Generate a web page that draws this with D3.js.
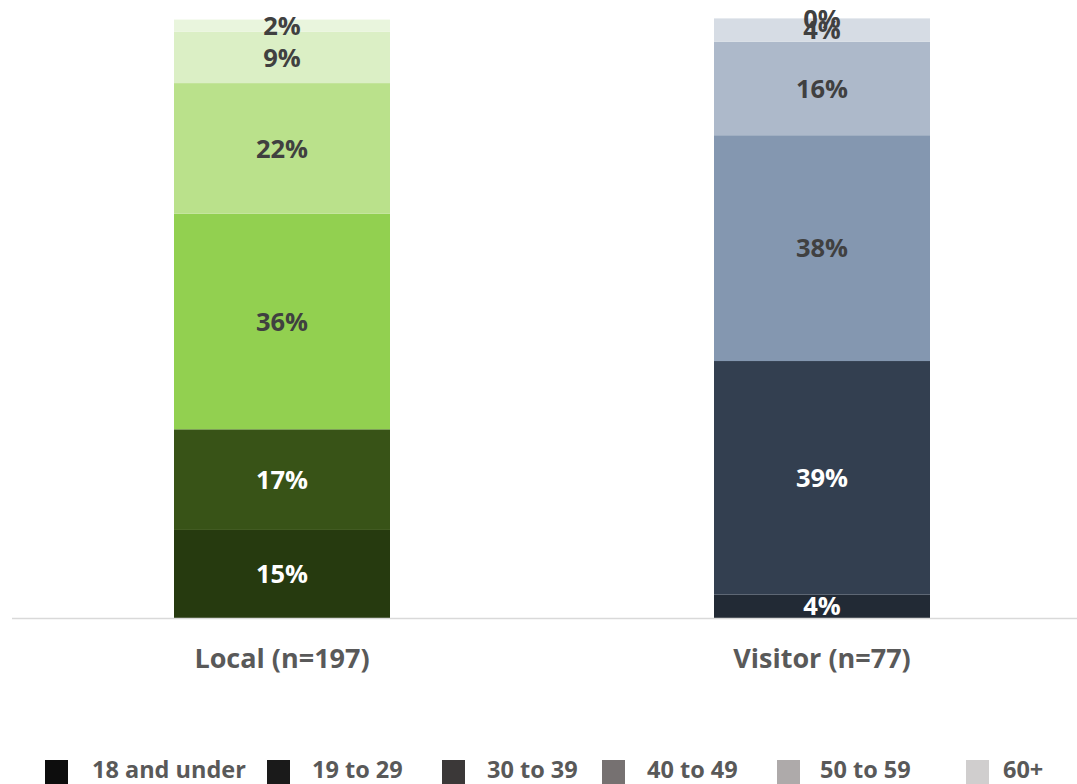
<!DOCTYPE html>
<html><head><meta charset="utf-8">
<script src="https://cdn.jsdelivr.net/npm/d3@7"></script>
<style>html,body{margin:0;padding:0;background:#fff;overflow:hidden}</style>
</head><body><svg id="c" width="1077" height="784"></svg>
<script>
const categories = ["Local (n=197)", "Visitor (n=77)"];
const ageGroups = ["18 and under", "19 to 29", "30 to 39", "40 to 49", "50 to 59", "60+"];
const localValues = [14.7, 16.8, 36.0, 21.8, 8.6, 2.0];
const visitorValues = [3.9, 39.0, 37.7, 15.6, 3.9, 0.0];
const localColors = ["#263a0f", "#385317", "#92d050", "#bae18b", "#dbefc5", "#e9f5dd"];
const visitorColors = ["#222a35", "#333f50", "#8497b0", "#adb9ca", "#d6dce4", "#eaeef3"];
const legendColors = ["#0d0d0d", "#1a1a1a", "#3b3838", "#767171", "#aeaaaa", "#d0cece"];
const labelColors = ["#ffffff", "#ffffff", "#404040", "#404040", "#404040", "#404040"];

const svg = d3.select("#c");
const font = "'Open Sans', sans-serif";
const x = d3.scaleBand().domain(categories).range([12, 1092]).paddingInner(0.6).paddingOuter(0.3);
const y = d3.scaleLinear().domain([0, 100]).range([618, 19]);

const series = [localValues, visitorValues];
const palettes = [localColors, visitorColors];

categories.forEach((cat, ci) => {
  let cum = 0;
  const segs = series[ci].map((v, i) => { const s = {i, v, y0: cum, y1: cum + v}; cum += v; return s; });
  const g = svg.append("g");
  g.selectAll("rect").data(segs).join("rect")
    .attr("x", x(cat)).attr("width", x.bandwidth())
    .attr("y", d => y(d.y1)).attr("height", d => y(d.y0) - y(d.y1))
    .attr("fill", d => palettes[ci][d.i]);
  g.selectAll("text").data(segs).join("text")
    .attr("x", x(cat) + x.bandwidth() / 2)
    .attr("y", d => (y(d.y0) + y(d.y1)) / 2)
    .attr("dy", "0.36em")
    .attr("text-anchor", "middle")
    .attr("font-family", font).attr("font-weight", "bold").attr("font-size", 25.5)
    .attr("fill", d => labelColors[d.i])
    .text(d => Math.round(d.v) + "%");
});

// baseline axis
svg.append("line").attr("x1", 12).attr("x2", 1077).attr("y1", 618.5).attr("y2", 618.5)
  .attr("stroke", "#d9d9d9").attr("stroke-width", 1.5);

const xAxis = d3.axisBottom(x).tickSize(0).tickPadding(0);
const ax = svg.append("g").attr("transform", "translate(0,618)").call(xAxis);
ax.select(".domain").remove();
ax.selectAll("text").attr("y", 50).attr("dy", "0")
  .attr("font-family", font).attr("font-weight", "bold").attr("font-size", 27).attr("fill", "#595959");

// legend layout
const legendSquareX = [45, 267, 442, 602, 777, 966];
const legendTextX = [92, 312, 487, 647, 820, 1003];
const legend = svg.append("g");
ageGroups.forEach((a, i) => {
  legend.append("rect").attr("x", legendSquareX[i]).attr("y", 760).attr("width", 23).attr("height", 24).attr("fill", legendColors[i]);
  legend.append("text").attr("x", legendTextX[i]).attr("y", 778)
    .attr("font-family", font).attr("font-weight", "bold").attr("font-size", 23.5).attr("fill", "#595959").text(a);
});
</script></body></html>
